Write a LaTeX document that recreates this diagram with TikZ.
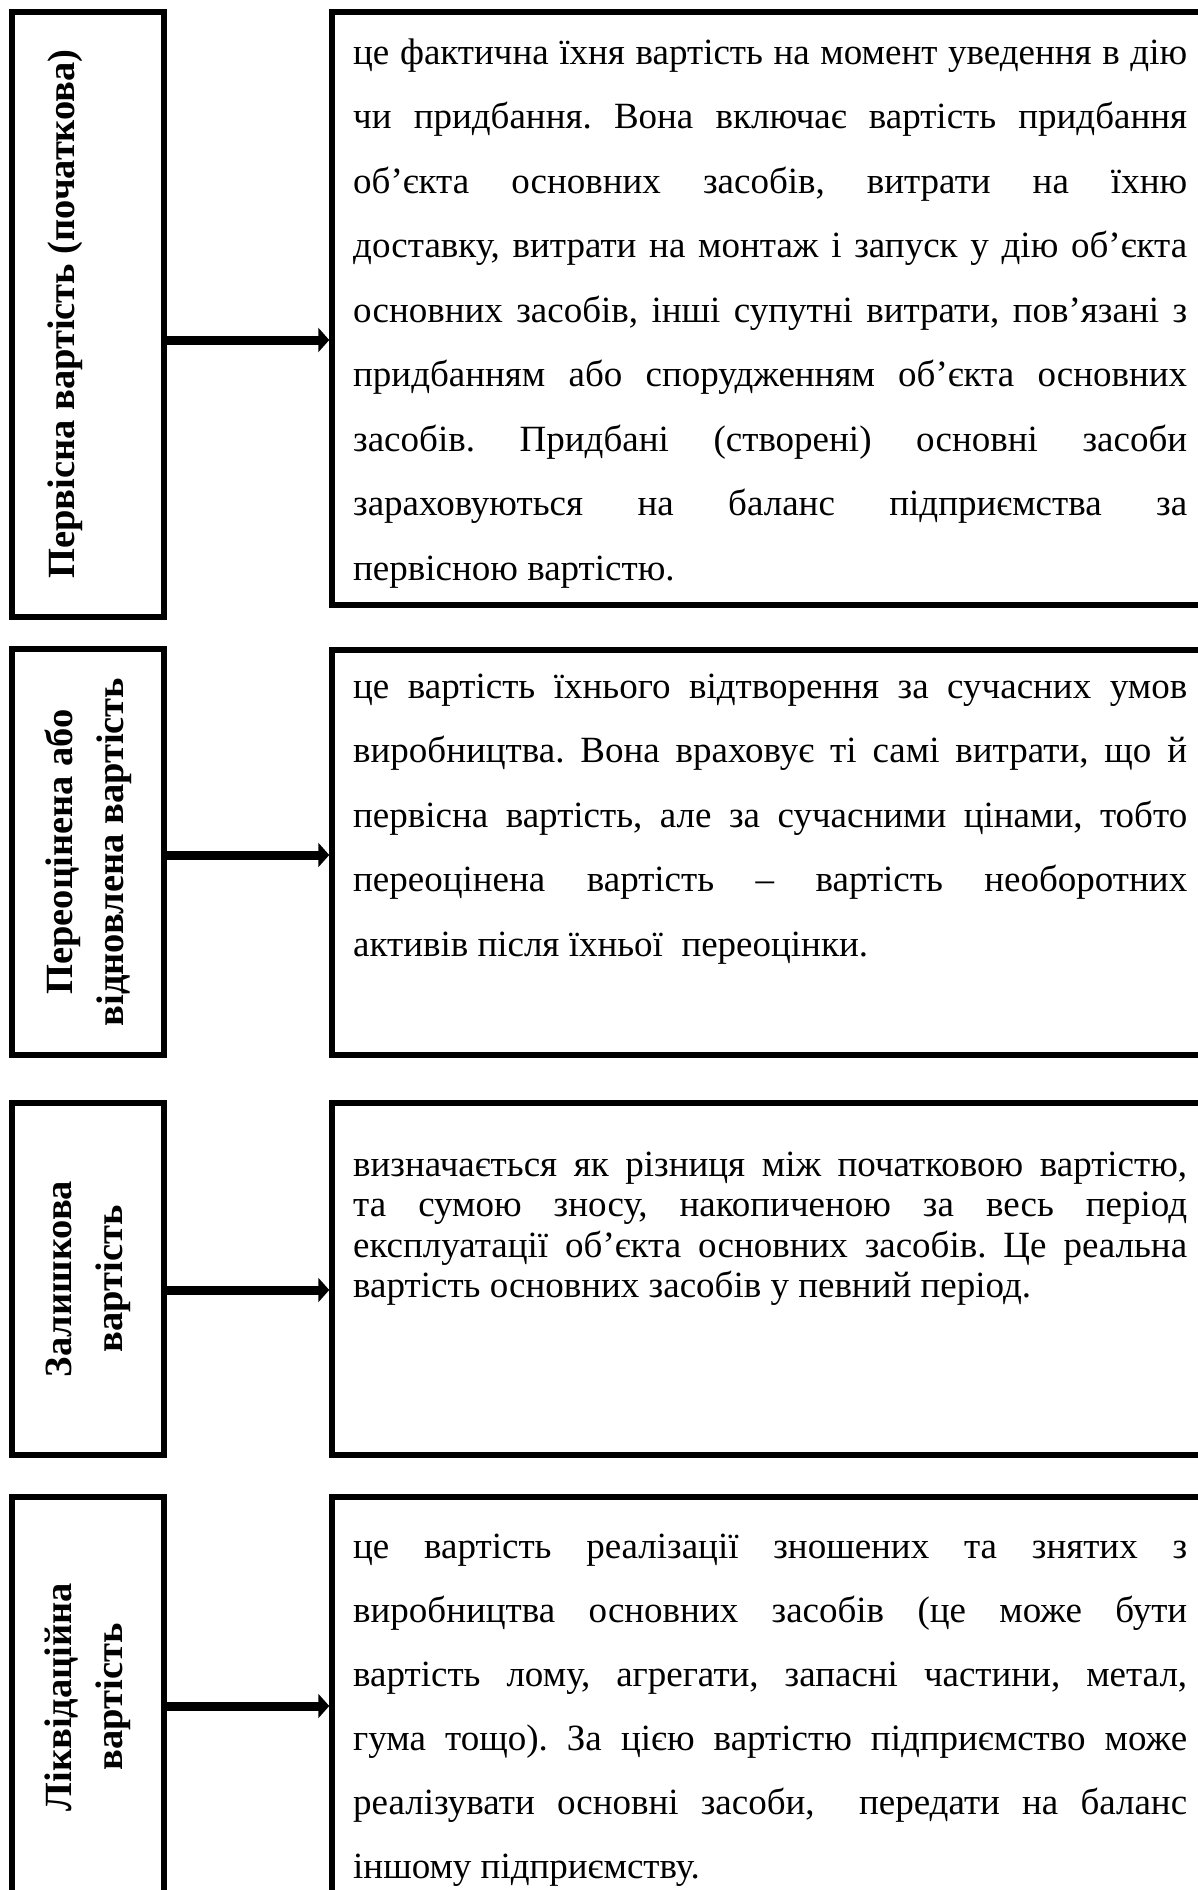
\documentclass[tikz,border=0pt]{standalone}
\usepackage{fontspec}
\setmainfont{Liberation Serif}
\usetikzlibrary{arrows.meta}
\newcommand\jline[1]{\makebox[\linewidth][s]{#1}}
\tikzset{
  frame/.style={draw=black, line width=5.5pt, inner sep=0pt, fill=none},
  conn/.style={line width=9pt, -{Triangle[length=11pt,width=24pt]}},
  lab/.style={rotate=90, align=center, inner sep=0pt, font=\bfseries\fontsize{38.5}{51}\selectfont},
  body/.style={anchor=base west, inner sep=0pt, font=\frenchspacing\fontsize{37}{64.5}\selectfont},
}
\begin{document}
\begin{tikzpicture}[x=1pt,y=-1pt]
\useasboundingbox (0,0) rectangle (1198,1890);
\clip (0,0) rectangle (1198,1890);
\fill[white] (0,0) rectangle (1198,1890);

% boxes
\node[frame, minimum width=152pt, minimum height=605pt] (L1) at (88,314.5) {};
\node[frame, minimum width=908pt, minimum height=593pt] (R1) at (786,308.5) {};
\node[frame, minimum width=152pt, minimum height=406pt] (L2) at (88,852) {};
\node[frame, minimum width=908pt, minimum height=405pt] (R2) at (786,852.5) {};
\node[frame, minimum width=152pt, minimum height=352pt] (L3) at (88,1279) {};
\node[frame, minimum width=908pt, minimum height=352pt] (R3) at (786,1279) {};
\node[frame, minimum width=152pt, minimum height=408pt] (L4) at (88,1701) {};
\node[frame, minimum width=908pt, minimum height=408pt] (R4) at (786,1701) {};

% labels
\node[lab] (N1) at (65,314) {Первісна вартість (початкова)};
\node[lab] (N2) at (88,852) {Переоцінена або\\відновлена вартість};
\node[lab] (N3) at (88,1279) {Залишкова\\вартість};
\node[lab] (N4) at (88,1697) {Ліквідаційна\\вартість};

% connectors
\coordinate (a1) at (0,340);
\coordinate (a2) at (0,855);
\coordinate (a3) at (0,1290);
\coordinate (a4) at (0,1706);
\draw[conn] (L1.east |- a1) -- (R1.west |- a1);
\draw[conn] (L2.east |- a2) -- (R2.west |- a2);
\draw[conn] (L3.east |- a3) -- (R3.west |- a3);
\draw[conn] (L4.east |- a4) -- (R4.west |- a4);

% texts
\node[body] (T1) at (353,64) {\parbox[t]{834pt}{%
\jline{це фактична їхня вартість на момент уведення в дію}\\
\jline{чи придбання. Вона включає вартість придбання}\\
\jline{об’єкта основних засобів, витрати на їхню}\\
\jline{доставку, витрати на монтаж і запуск у дію об’єкта}\\
\jline{основних засобів, інші супутні витрати, пов’язані з}\\
\jline{придбанням або спорудженням об’єкта основних}\\
\jline{засобів. Придбані (створені) основні засоби}\\
\jline{зараховуються на баланс підприємства за}\\
первісною вартістю.}};

\node[body] (T2) at (353,698) {\parbox[t]{834pt}{%
\jline{це вартість їхнього відтворення за сучасних умов}\\
\jline{виробництва. Вона враховує ті самі витрати, що й}\\
\jline{первісна вартість, але за сучасними цінами, тобто}\\
\jline{переоцінена вартість – вартість необоротних}\\
активів після їхньої\ \ переоцінки.}};

\node[body, font=\frenchspacing\fontsize{37}{40.5}\selectfont] (T3) at (353,1176) {\parbox[t]{834pt}{%
\jline{визначається як різниця між початковою вартістю,}\\
\jline{та сумою зносу, накопиченою за весь період}\\
\jline{експлуатації об’єкта основних засобів. Це реальна}\\
вартість основних засобів у певний період.}};

\node[body, font=\frenchspacing\fontsize{37}{64}\selectfont] (T4) at (353,1558) {\parbox[t]{834pt}{%
\jline{це вартість реалізації зношених та знятих з}\\
\jline{виробництва основних засобів (це може бути}\\
\jline{вартість лому, агрегати, запасні частини, метал,}\\
\jline{гума тощо). За цією вартістю підприємство може}\\
\jline{реалізувати основні засоби,\ \ передати на баланс}\\
іншому підприємству.}};
\end{tikzpicture}
\end{document}
